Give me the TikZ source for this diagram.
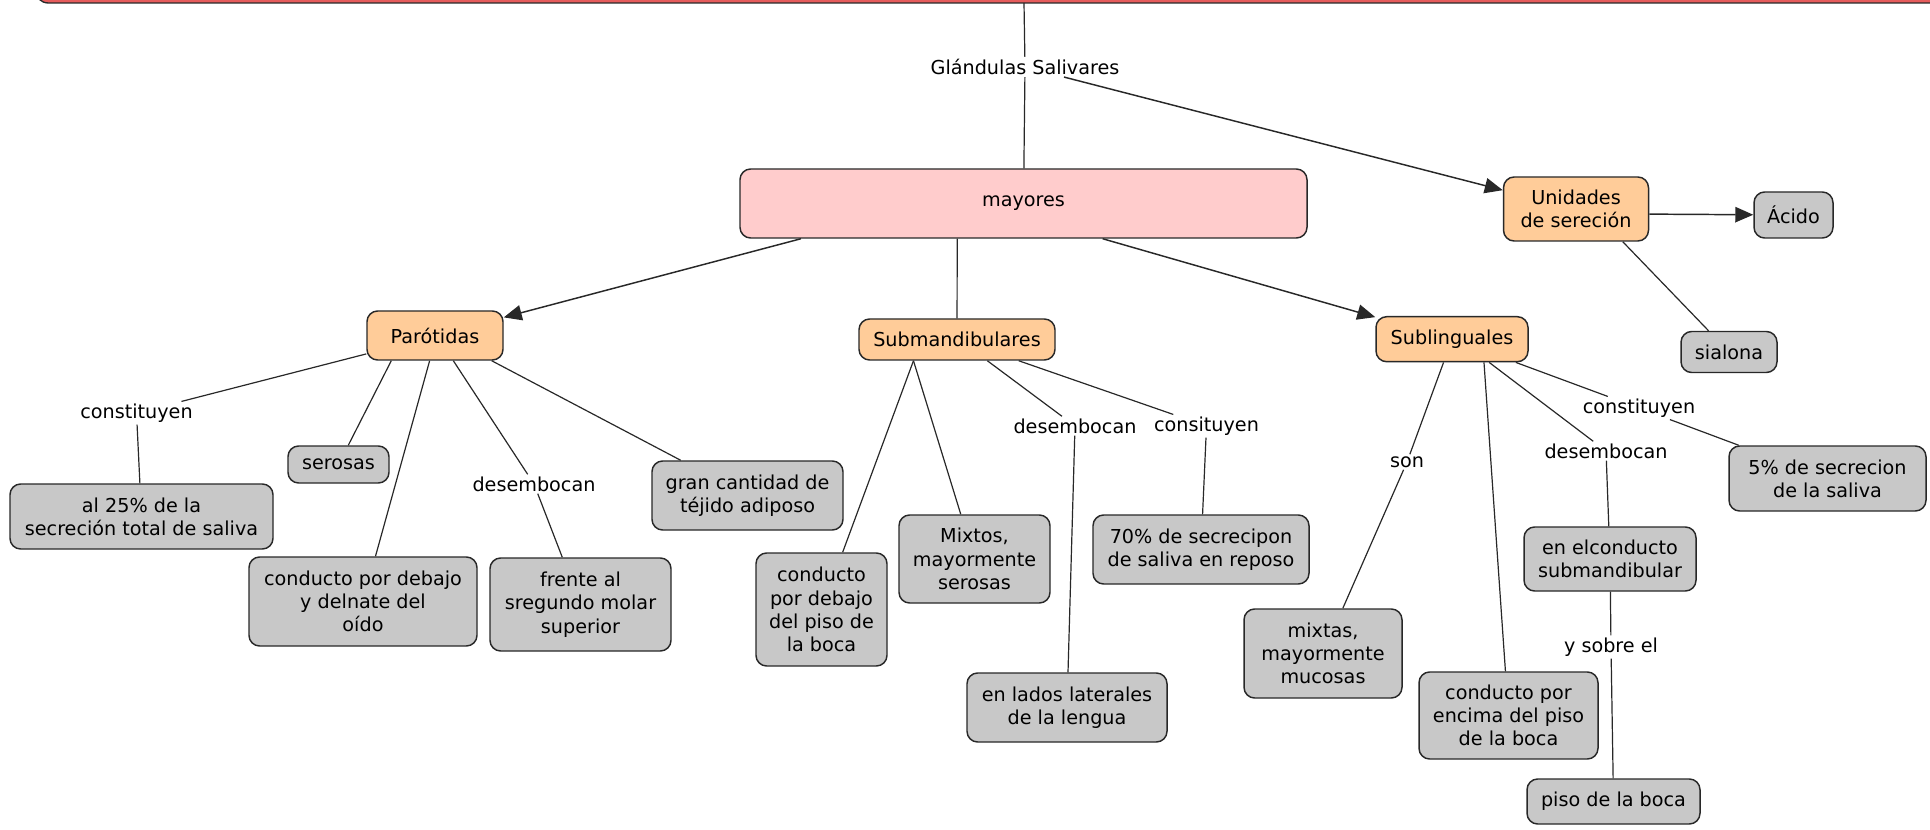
\documentclass[tikz,border=0pt]{standalone}
\usepackage{fontspec}
\setmainfont{DejaVu Sans}
\usepackage{tikz}
\usetikzlibrary{arrows.meta}
\definecolor{barred}{RGB}{230,92,92}
\definecolor{pinkfill}{RGB}{255,204,204}
\definecolor{peach}{RGB}{255,204,153}
\definecolor{greyfill}{RGB}{200,200,200}
\definecolor{edge}{RGB}{40,40,40}

\begin{document}
\begin{tikzpicture}[x=0.75pt,y=0.75pt,yscale=-1,xscale=1,
  font=\fontsize{14.4}{17.4}\selectfont,
  box/.style={draw=edge, line width=1.1pt, rounded corners=8pt, align=center, inner sep=2pt},
  gbox/.style={box, fill=greyfill},
  obox/.style={box, fill=peach},
  wh/.style 2 args={minimum width=#1*0.75pt, minimum height=#2*0.75pt},
  lword/.style={inner sep=1.5pt},
  link/.style={draw=edge, line width=0.9pt},
  arrowlink/.style={link, line width=1.1pt, -{Triangle[length=13.5pt,width=11.5pt]}}]
\useasboundingbox (0,0) rectangle (1930,830);

%Rounded Rect (top bar)
\begin{scope}
\clip (0,0) rectangle (1930,830);
\draw [fill=barred, draw=edge, line width=1pt, rounded corners=10pt] (35,-40) rectangle (1990,3);
\end{scope}
\coordinate (bar) at (1024,3);

% Text Node
\node [lword] (glan) at (1025,67) {Glándulas Salivares};
% Text Node
\node [box, fill=pinkfill, wh={567}{69}] (mayores) at (1023.5,203.5) {mayores};
% Text Node
\node [obox, wh={145}{64}] (unid) at (1576,209) {Unidades\\de sereción};
% Text Node
\node [gbox, wh={79}{46}] (acido) at (1793.5,215) {Ácido};
% Text Node
\node [gbox, wh={96}{41}] (sialona) at (1729,352) {sialona};

% Text Node
\node [obox, wh={136}{49}] (paro) at (435,335.5) {Parótidas};
% Text Node
\node [obox, wh={196}{41}] (submand) at (957,339.5) {Submandibulares};
% Text Node
\node [obox, wh={152}{45}] (subl) at (1452,339.2) {Sublinguales};

% Text Node
\node [lword] (const1) at (136.5,413) {constituyen};
% Text Node
\node [gbox, wh={263}{65}] (al25) at (141.5,516.5) {al 25\% de la\\secreción total de saliva};
% Text Node
\node [gbox, wh={101}{37}] (serosas) at (338.5,464.5) {serosas};
% Text Node
\node [gbox, wh={228}{89}] (condebajo) at (363,601.5) {conducto por debajo\\y delnate del\\oído};
% Text Node
\node [lword] (desemb1) at (534,484) {desembocan};
% Text Node
\node [gbox, wh={181}{93}] (frente) at (580.5,604.5) {frente al\\sregundo molar\\superior};
% Text Node
\node [gbox, wh={191}{69}] (gran) at (747.5,495.5) {gran cantidad de\\téjido adiposo};

% Text Node
\node [gbox, wh={131}{113}] (condpiso) at (821.5,609.5) {conducto\\por debajo\\del piso de\\la boca};
% Text Node
\node [gbox, wh={151}{88}] (mixtos) at (974.5,559) {Mixtos,\\mayormente\\serosas};
% Text Node
\node [lword] (desemb2) at (1075,426) {desembocan};
% Text Node
\node [gbox, wh={200}{69}] (lados) at (1067,707.5) {en lados laterales\\de la lengua};
% Text Node
\node [lword] (consit) at (1206.5,426) {consituyen};
% Text Node
\node [gbox, wh={216}{69}] (setenta) at (1201,549.5) {70\% de secrecipon\\de saliva en reposo};

% Text Node
\node [lword] (son) at (1407,462) {son};
% Text Node
\node [gbox, wh={158}{89}] (mixtas) at (1323,653.5) {mixtas,\\mayormente\\mucosas};
% Text Node
\node [gbox, wh={179}{87}] (condencima) at (1508.5,715.5) {conducto por\\encima del piso\\de la boca};
% Text Node
\node [lword] (desemb3) at (1606,451) {desembocan};
% Text Node
\node [gbox, wh={172}{64}] (elcond) at (1610,559) {en elconducto\\submandibular};
% Text Node
\node [lword] (ysobre) at (1611,647) {y sobre el};
% Text Node
\node [gbox, wh={173}{45}] (piso) at (1613.5,801.5) {piso de la boca};
% Text Node
\node [lword] (const3) at (1639,408) {constituyen};
% Text Node
\node [gbox, wh={197}{65}] (fivep) at (1827.5,478.5) {5\% de secrecion\\de la saliva};

%Straight Lines
\draw [link] (bar) -- (glan);
\draw [link] (glan) -- (mayores);
\draw [arrowlink] (glan) -- (unid);
\draw [arrowlink] (unid.356) -- (acido);
\draw [link] (unid.325) -- (sialona);
%Straight Lines
\draw [arrowlink] (mayores.189) -- (paro);
\draw [link] (mayores.208) -- (submand);
\draw [arrowlink] (mayores.336) -- (subl);
%Straight Lines
\draw [link] (paro.195) -- (const1);
\draw [link] (const1) -- (al25);
\draw [link] (paro.210) -- (serosas);
\draw [link] (paro.258) -- (condebajo);
\draw [link] (paro.306) -- (desemb1);
\draw [link] (desemb1) -- (frente);
\draw [link] (paro.336) -- (gran);
%Straight Lines
\draw [link] (submand.206) -- (condpiso);
\draw [link] (submand.206) -- (mixtos);
\draw [link] (submand.325) -- (desemb2);
\draw [link] (desemb2) -- (lados);
\draw [link] (submand.341) -- (consit);
\draw [link] (consit) -- (setenta);
%Straight Lines
\draw [link] (subl.250) -- (son);
\draw [link] (son) -- (mixtas);
\draw [link] (subl.324) -- (condencima);
\draw [link] (subl.328) -- (desemb3);
\draw [link] (desemb3) -- (elcond);
\draw [link] (elcond) -- (ysobre);
\draw [link] (ysobre) -- (piso);
\draw [link] (subl.340) -- (const3);
\draw [link] (const3) -- (fivep);

\end{tikzpicture}
\end{document}
